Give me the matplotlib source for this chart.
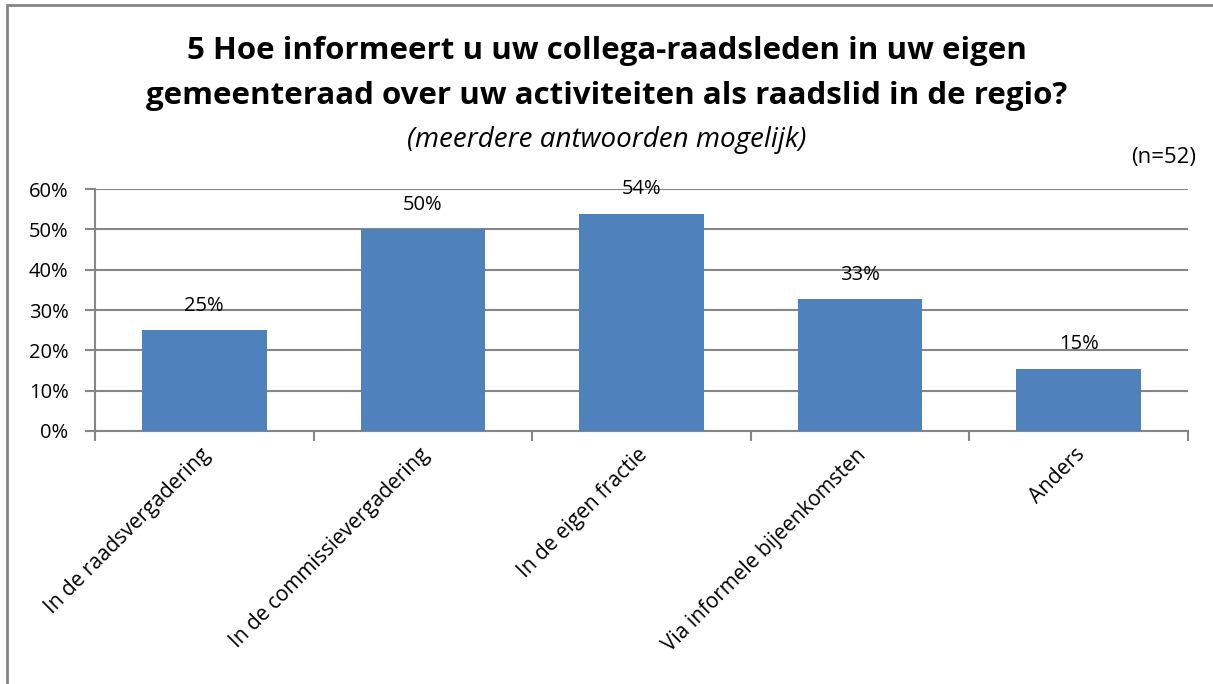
import matplotlib.pyplot as plt
import matplotlib.patches as mpatches
import numpy as np

# Data
categories = ['In de raadsvergadering', 'In de commissievergadering', 'In de eigen fractie',
              'Via informele bijeenkomsten', 'Anders']
counts = [13, 26, 28, 17, 8]
n_total = 52
values = [c / n_total for c in counts]
yticks = [0, 0.1, 0.2, 0.3, 0.4, 0.5, 0.6]

W, H = 1213, 684
plt.rcParams['font.family'] = ['Open Sans', 'DejaVu Sans']

fig = plt.figure(figsize=(W / 100, H / 100), dpi=100)
ax = fig.add_axes([95 / W, 1 - 431 / H, (1188 - 95) / W, (431 - 189) / H])

bar_color = '#4F81BD'
grid_color = '#868686'
x = np.arange(len(categories))
ax.bar(x, values, width=0.57, color=bar_color, zorder=3)

ax.set_xlim(-0.5, len(categories) - 0.5)
ax.set_ylim(0, 0.6)
ax.set_yticks(yticks)
ax.set_yticklabels([f'{int(round(t * 100))}%' for t in yticks], fontsize=14.5)
ax.yaxis.grid(True, color=grid_color, linewidth=1.5, zorder=0)
ax.set_axisbelow(True)

# x ticks between categories, labels drawn at centers
ax.set_xticks(np.arange(-0.5, len(categories)))
ax.set_xticklabels([])
ax.tick_params(axis='x', length=7, color=grid_color, width=1.5)
ax.tick_params(axis='y', length=7, color=grid_color, width=1.5, pad=12)
for i, cat in enumerate(categories):
    ax.text(i - 0.02, -0.033, cat, rotation=45, ha='right', va='top',
            rotation_mode='anchor', fontsize=15)

for s in ['top', 'right']:
    ax.spines[s].set_visible(False)
for s in ['left', 'bottom']:
    ax.spines[s].set_color(grid_color)
    ax.spines[s].set_linewidth(1.5)

# value labels
for xi, v in zip(x, values):
    ax.text(xi, v + 0.036, f'{int(round(v * 100))}%', ha='center', va='bottom', fontsize=14.5)

# titles
fig.text(0.5, 1 - 51 / H, '5 Hoe informeert u uw collega-raadsleden in uw eigen',
         ha='center', va='center', fontsize=22.5, fontweight='bold')
fig.text(0.5, 1 - 96 / H, 'gemeenteraad over uw activiteiten als raadslid in de regio?',
         ha='center', va='center', fontsize=22.5, fontweight='bold')
fig.text(0.5, 1 - 140 / H, '(meerdere antwoorden mogelijk)',
         ha='center', va='center', fontsize=20, style='italic')
fig.text(1196 / W, 1 - 158 / H, f'(n={n_total})', ha='right', va='center', fontsize=16)

# outer frame (left and top edges visible)
fig.patches.append(mpatches.Rectangle((7 / W, -0.1), 1.2, 1 - 5 / H + 0.1,
                                      transform=fig.transFigure, fill=False,
                                      edgecolor=grid_color, linewidth=2))

fig.savefig('out.png', dpi=100)
